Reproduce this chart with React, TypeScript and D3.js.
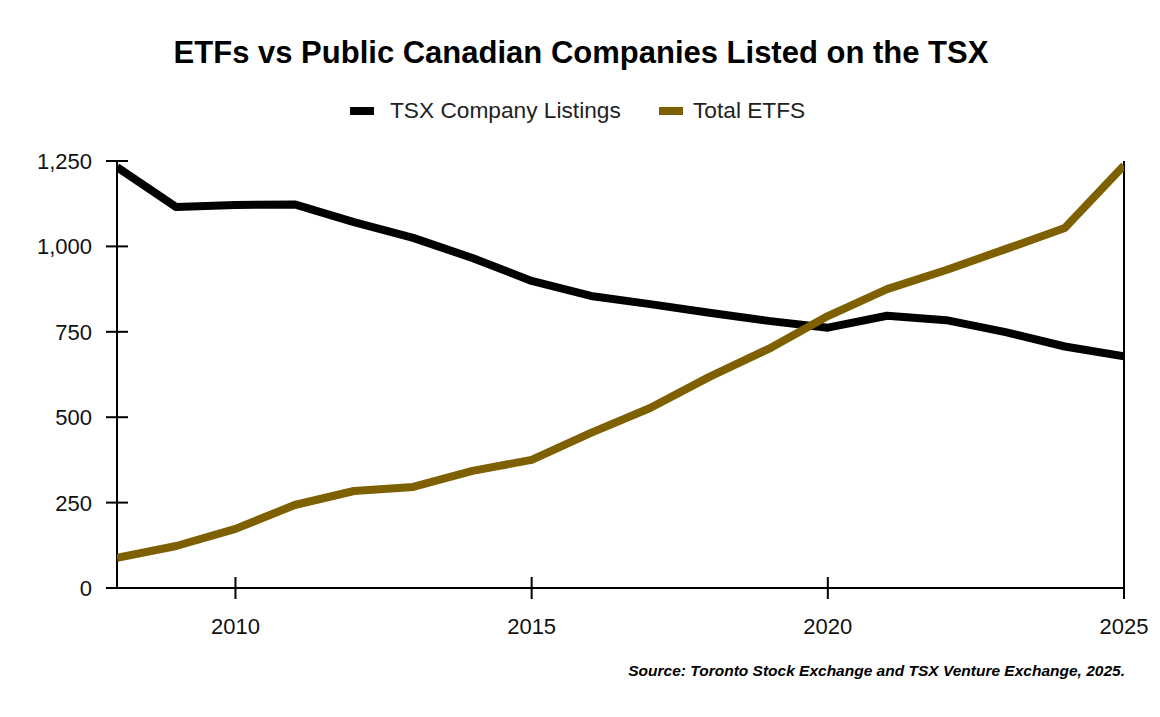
import React from 'react';
import * as d3 from 'd3';

const years = [2008, 2009, 2010, 2011, 2012, 2013, 2014, 2015, 2016, 2017, 2018, 2019, 2020, 2021, 2022, 2023, 2024, 2025];
const tsxListings = [1232, 1115, 1121, 1123, 1071, 1025, 966, 899, 855, 831, 806, 782, 762, 797, 784, 749, 707, 678];
const totalEtfs = [88, 123, 173, 243, 284, 296, 343, 375, 454, 527, 618, 700, 796, 875, 931, 992, 1054, 1237];
const yTicks = [0, 250, 500, 750, 1000, 1250];
const xTicks = [2010, 2015, 2020, 2025];

const GOLD = '#7f6000';
const FONT = '"Liberation Sans", Arial, sans-serif';

export default function App() {
  const left = 117, right = 1124, top = 161, bottom = 588;

  const x = d3.scaleLinear().domain([2008, 2025]).range([left, right]);
  const y = d3.scaleLinear().domain([0, 1250]).range([bottom, top]);

  const line = d3.line<number>()
    .x((d, i) => x(years[i]))
    .y(d => y(d));

  const fmt = d3.format(',');

  return (
    <svg width={1160} height={717} style={{ position: 'absolute', left: 0, top: 0, background: '#fff' }} fontFamily={FONT}>
      <defs>
        <clipPath id="plot">
          <rect x={left} y={top - 10} width={right - left} height={bottom - top + 10} />
        </clipPath>
      </defs>

      <text x={581} y={63} textAnchor="middle" fontSize={31} fontWeight="bold" fill="#000">
        ETFs vs Public Canadian Companies Listed on the TSX
      </text>

      {/* legend */}
      <g fontSize={22.7} fill="#222">
        <rect x={350} y={107} width={24} height={8} fill="#000" />
        <text x={390} y={118}>TSX Company Listings</text>
        <rect x={659} y={107} width={24} height={8} fill={GOLD} />
        <text x={693} y={118}>Total ETFS</text>
      </g>

      {/* axes */}
      <g stroke="#000" strokeWidth={2}>
        <line x1={left} x2={left} y1={top} y2={bottom} />
        <line x1={right} x2={right} y1={top} y2={bottom} />
        <line x1={left - 11} x2={right} y1={bottom} y2={bottom} />
        {yTicks.map(t => (
          <line key={t} x1={left - 11} x2={left + 11} y1={y(t)} y2={y(t)} />
        ))}
        {xTicks.map(t => (
          <line key={t} x1={x(t)} x2={x(t)} y1={bottom - 11} y2={bottom + 11} />
        ))}
      </g>
      <g fontSize={22} fill="#111">
        {yTicks.map(t => (
          <text key={t} x={left - 25} y={y(t) + 8} textAnchor="end">{fmt(t)}</text>
        ))}
        {xTicks.map(t => (
          <text key={t} x={x(t)} y={634} textAnchor="middle">{t}</text>
        ))}
      </g>

      <g clipPath="url(#plot)" fill="none" strokeWidth={8} strokeLinejoin="round">
        <path d={line(tsxListings) ?? ''} stroke="#000" />
        <path d={line(totalEtfs) ?? ''} stroke={GOLD} />
      </g>

      <text x={1125} y={676} textAnchor="end" fontSize={15.5} fontWeight="bold" fontStyle="italic" fill="#000">
        Source: Toronto Stock Exchange and TSX Venture Exchange, 2025.
      </text>
    </svg>
  );
}
